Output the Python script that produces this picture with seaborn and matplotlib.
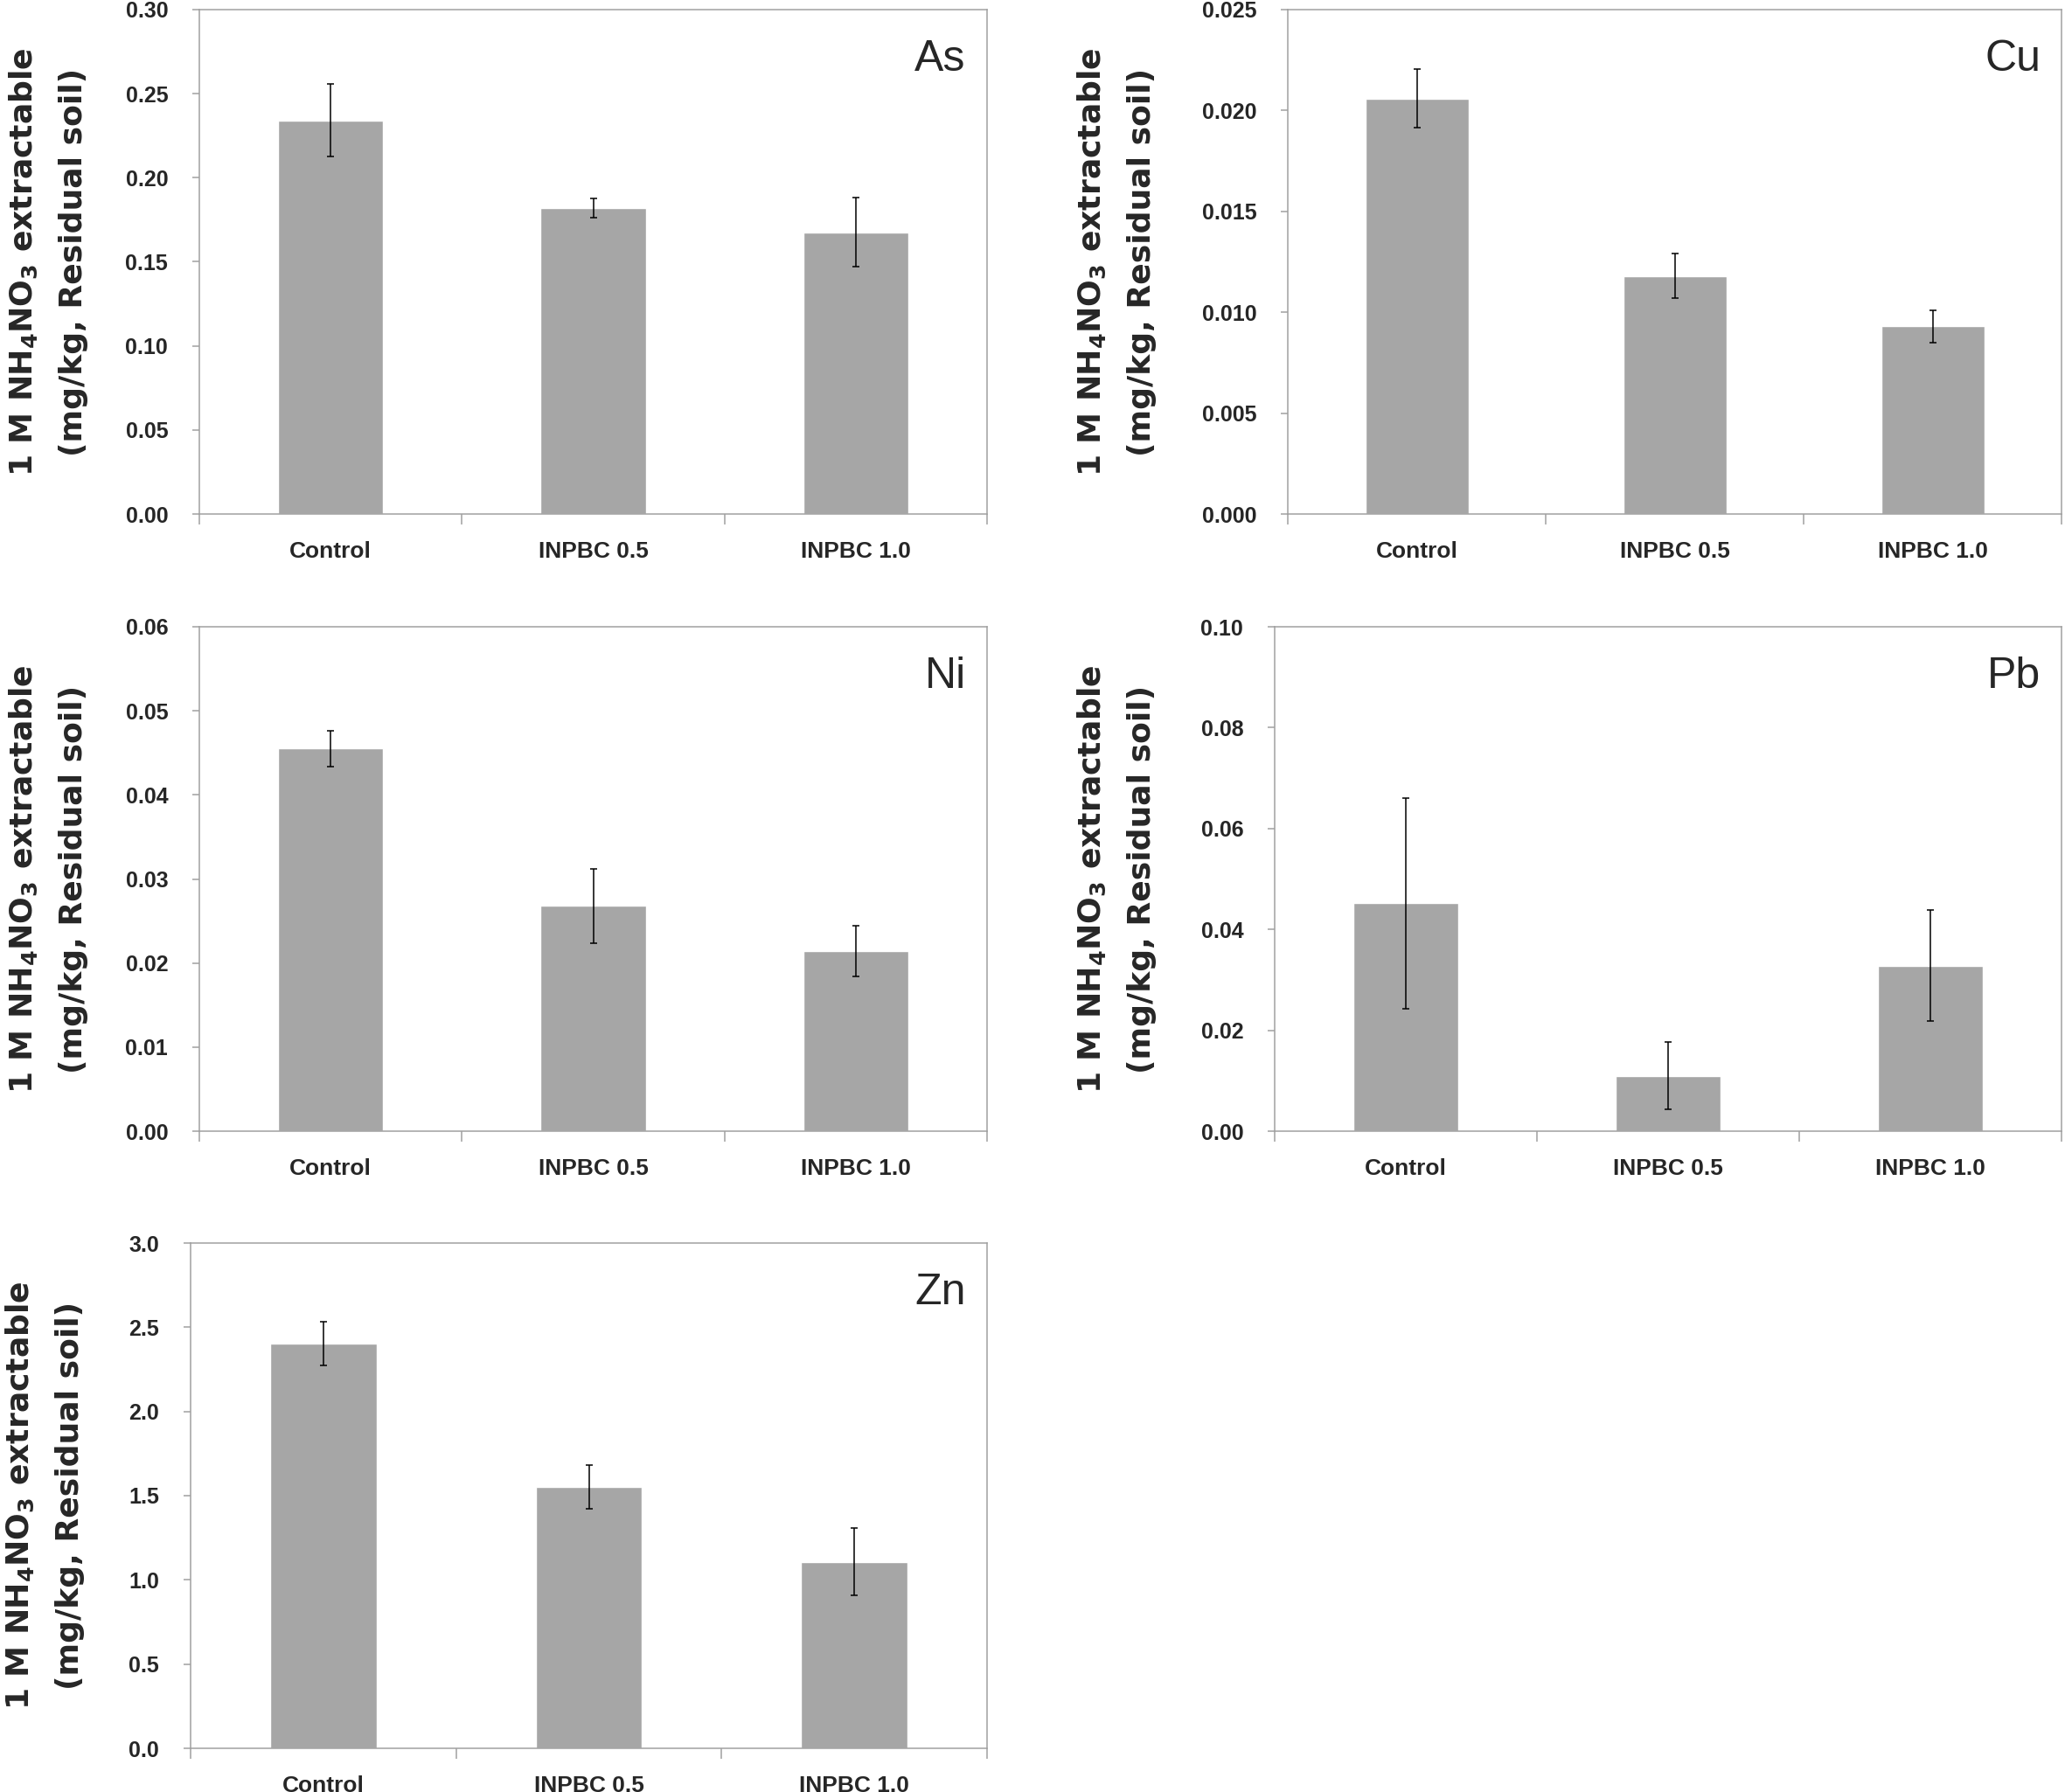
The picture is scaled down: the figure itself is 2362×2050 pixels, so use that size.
import numpy as np
import pandas as pd
import matplotlib
matplotlib.use("Agg")
import matplotlib.pyplot as plt
import seaborn as sns
from matplotlib.ticker import MultipleLocator, FormatStrFormatter, FixedLocator

# ---------------- data ----------------
treatments = ["Control", "INPBC 0.5", "INPBC 1.0"]
elements = ["As", "Cu", "Ni", "Pb", "Zn"]

as_mean = [0.234, 0.182, 0.1675]
as_err = [0.0216, 0.0055, 0.0205]
cu_mean = [0.0206, 0.0118, 0.0093]
cu_err = [0.00145, 0.0011, 0.0008]
ni_mean = [0.0455, 0.0268, 0.0214]
ni_err = [0.0021, 0.0044, 0.0030]
pb_mean = [0.0452, 0.0110, 0.0328]
pb_err = [0.0209, 0.0066, 0.0110]
zn_mean = [2.405, 1.552, 1.108]
zn_err = [0.130, 0.130, 0.200]

y_max = [0.30, 0.025, 0.06, 0.10, 3.0]
y_step = [0.05, 0.005, 0.01, 0.02, 0.5]
y_fmt = ["%.2f", "%.3f", "%.2f", "%.2f", "%.1f"]

means = [as_mean, cu_mean, ni_mean, pb_mean, zn_mean]
errs = [as_err, cu_err, ni_err, pb_err, zn_err]

ylabel_text = "1 M NH$_4$NO$_3$ extractable\n(mg/kg, Residual soil)"

# ---------------- style ----------------
sns.set_style("white")
plt.rcParams["font.family"] = ["Liberation Sans", "DejaVu Sans"]
plt.rcParams["mathtext.default"] = "regular"

W, H = 2362, 2050
fig = plt.figure(figsize=(W / 100, H / 100), dpi=100)

# axes boxes in pixels: left, top, right, bottom
boxes = [(228, 11, 1129, 588), (1473, 11, 2358, 588),
         (228, 717, 1129, 1294), (1458, 717, 2358, 1294),
         (218, 1422, 1129, 2000)]
label_x = [101, 1323, 101, 1323, 97]

bar_color = "#A6A6A6"
axis_color = "#A0A0A0"

for i, el in enumerate(elements):
    l, t, r, b = boxes[i]
    ax = fig.add_axes([l / W, 1 - b / H, (r - l) / W, (b - t) / H])
    df = pd.DataFrame({"treatment": treatments, "value": means[i], "err": errs[i]})
    sns.barplot(data=df, x="treatment", y="value", color=bar_color, width=0.4,
                errorbar=None, saturation=1, ax=ax, zorder=2)
    xpos = ax.get_xticks()
    ax.errorbar(xpos, df["value"], yerr=df["err"], fmt="none", ecolor="black",
                elinewidth=1.1, capsize=3.2, capthick=1.1, zorder=3)
    ax.set_xlim(-0.5, len(treatments) - 0.5)
    ax.set_ylim(0, y_max[i])
    ax.yaxis.set_major_locator(MultipleLocator(y_step[i]))
    ax.yaxis.set_major_formatter(FormatStrFormatter(y_fmt[i]))
    ax.xaxis.set_minor_locator(FixedLocator(np.arange(-0.5, len(treatments), 1.0)))
    for s in ax.spines.values():
        s.set_color(axis_color)
        s.set_linewidth(1.1)
        s.set_visible(True)
    ax.tick_params(axis="x", which="major", length=0, pad=22, labelsize=19)
    ax.tick_params(axis="x", which="minor", length=8.6, width=1.1, color=axis_color,
                   direction="out", bottom=True)
    ax.tick_params(axis="y", which="major", length=5.8, width=1.1, color=axis_color,
                   direction="out", left=True, pad=20, labelsize=18)
    for lab in ax.get_xticklabels() + ax.get_yticklabels():
        lab.set_fontweight("bold")
    ax.set_xlabel("")
    ax.set_ylabel(ylabel_text, fontsize=26, fontweight="bold", family="DejaVu Sans",
                  linespacing=1.8)
    ax.yaxis.set_label_coords(label_x[i] / W, 1 - (t + b) / 2 / H,
                              transform=fig.transFigure)
    ax.text(0.973, 0.902, el, transform=ax.transAxes, ha="right", va="center",
            fontsize=36, fontweight="normal")

fig.savefig("out.png", dpi=100, facecolor="white")
